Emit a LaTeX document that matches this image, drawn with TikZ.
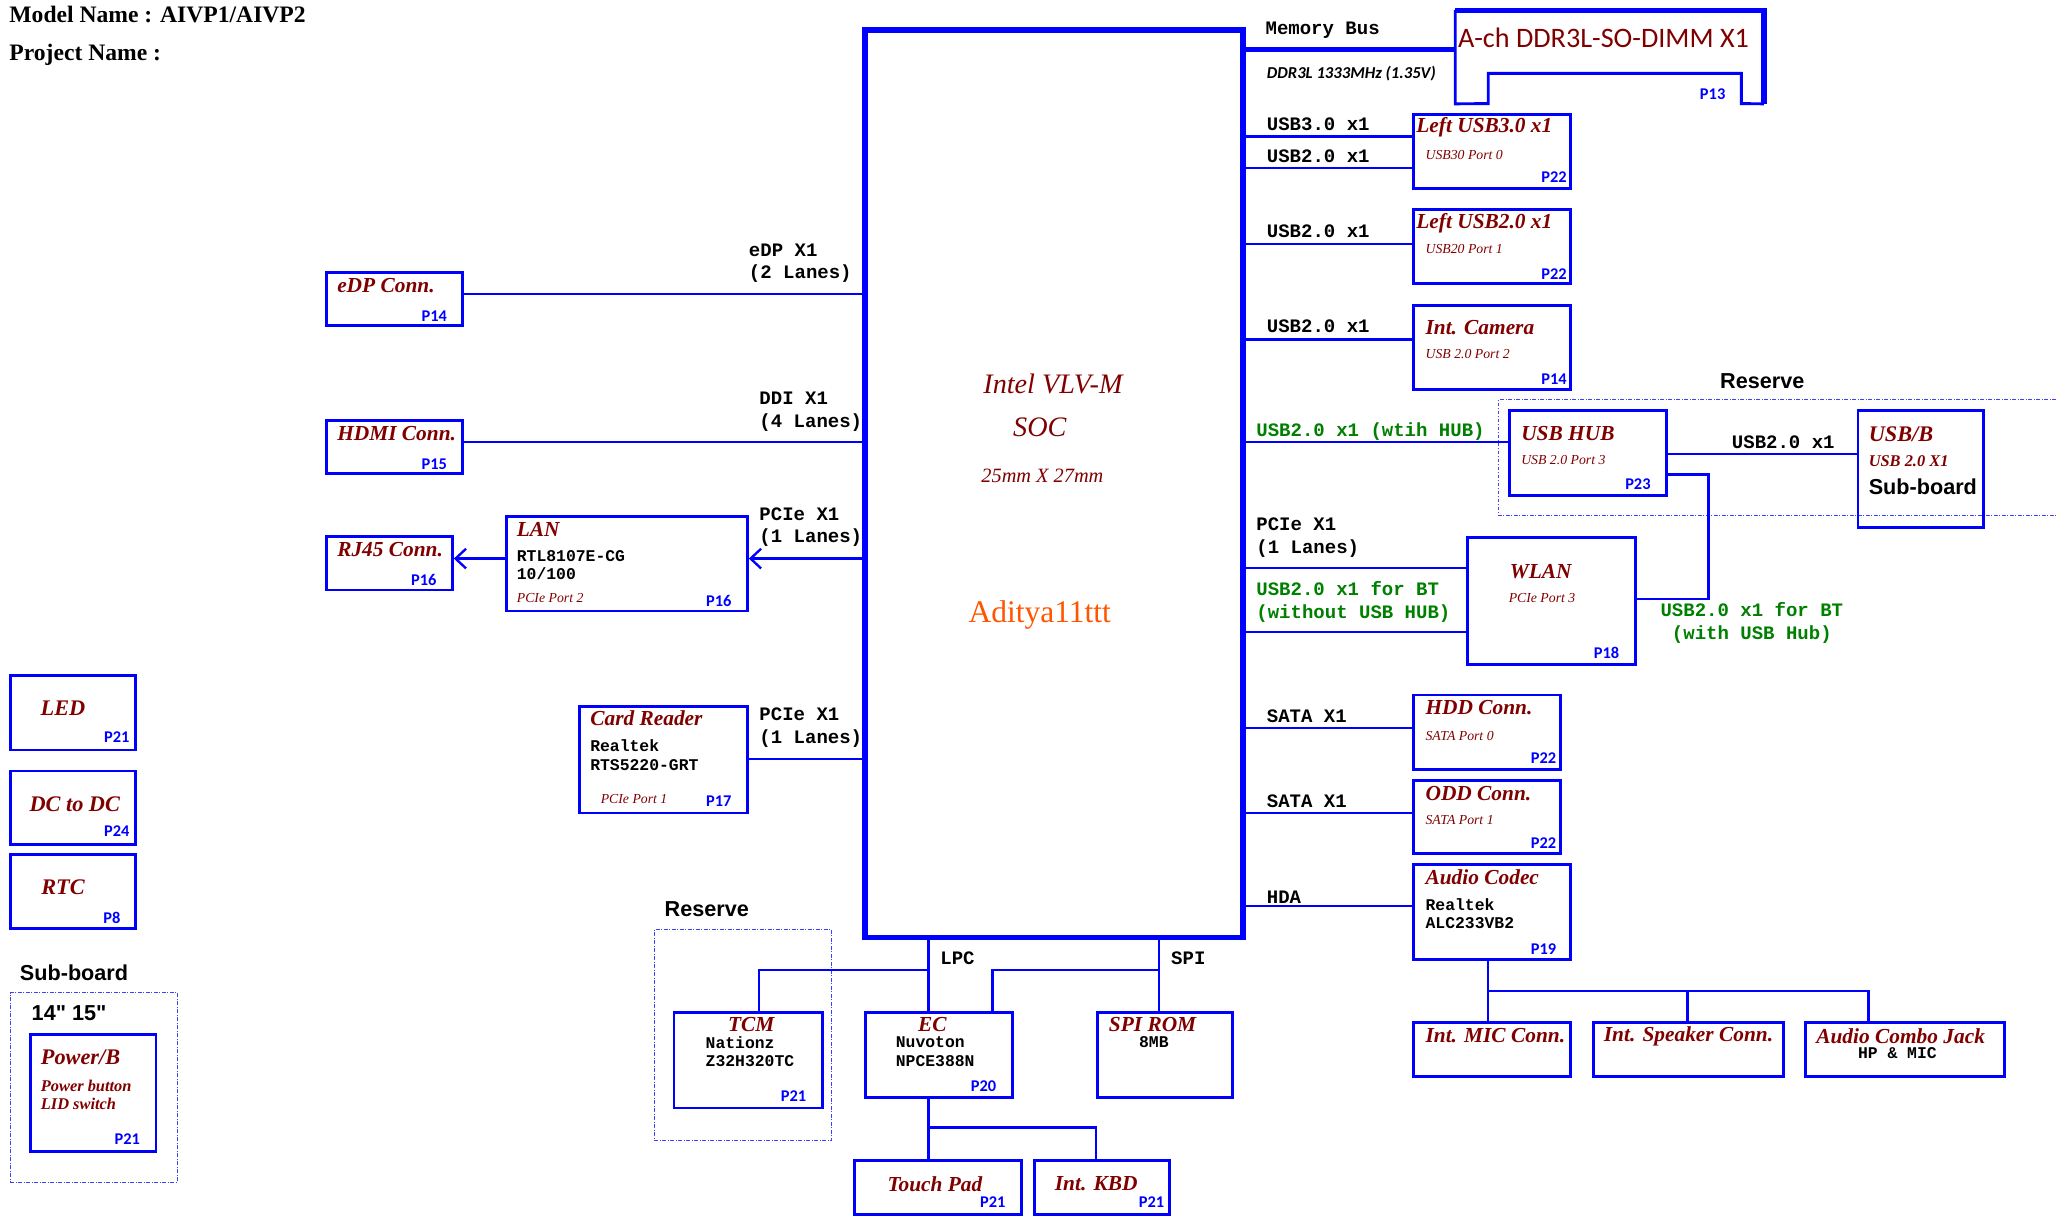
\documentclass[tikz,border=0pt]{standalone}
\usepackage{fontspec}
\setmainfont{Liberation Serif}
\setsansfont{Liberation Sans}
\setmonofont{Liberation Mono}
\newfontfamily\calfont{Carlito}
\newfontfamily\qsans{Liberation Sans}
\usetikzlibrary{fit,arrows.meta}

\definecolor{ttlred}{RGB}{128,0,0}
\definecolor{pblue}{RGB}{0,0,255}
\definecolor{busgreen}{RGB}{0,128,0}
\definecolor{wmark}{RGB}{255,85,0}

\begin{document}
\begin{tikzpicture}[x=1pt,y=-1pt,inner sep=0pt]

	\tikzset{socbox/.style={draw=pblue,line width=4.5pt},
		blk/.style={draw=pblue,line width=2.2pt},
		rsv/.style={draw=pblue!75,line width=0.7pt,dash pattern=on 3pt off 1.2pt on 0.7pt off 1.2pt},
		wire/.style={draw=pblue,line width=1.8pt},
		bus/.style={draw=pblue,line width=4pt},
		arr/.style={wire,-{Straight Barb[length=8pt,width=15pt]}},
		hdr/.style={anchor=west,font=\bfseries\fontsize{18}{20}\selectfont},
		soctxt/.style={text=ttlred,font=\itshape\fontsize{21.5}{24}\selectfont},
		ttl/.style={text=ttlred,font=\bfseries\itshape\fontsize{16.3}{18}\selectfont},
		big/.style={text=ttlred,font=\bfseries\itshape\fontsize{17}{20}\selectfont},
		sub/.style={anchor=west,text=ttlred,font=\itshape\fontsize{10.5}{12}\selectfont},
		subb/.style={anchor=west,align=left,text=ttlred,font=\bfseries\itshape\fontsize{12.5}{14}\selectfont},
		pg/.style={anchor=east,text=pblue,font=\calfont\bfseries\fontsize{12.5}{14}\selectfont},
		sig/.style={anchor=west,align=left,font=\ttfamily\bfseries\fontsize{14.5}{17}\selectfont},
		gsig/.style={sig,text=busgreen},
		chip/.style={anchor=west,align=left,font=\ttfamily\bfseries\fontsize{12.5}{14}\selectfont},
		note/.style={font=\sffamily\bfseries\fontsize{16.5}{19}\selectfont}}

	\useasboundingbox (0,0) rectangle (1568,933);

	\node[hdr] (model) at (7,11) {Model Name : AIVP1/AIVP2};
	\node[hdr] (proj) at (7,42) {Project Name :};

	\node[socbox,fit={(660,23)(948,715)}] (soc) {};
	\node[soctxt] (socn) at (803,293) {Intel VLV-M};
	\node[soctxt] (soct) at (793,326) {SOC};
	\node[soctxt,font=\itshape\fontsize{15.5}{18}\selectfont] (socs) at (795,363) {25mm X 27mm};
	\node[text=wmark,font=\fontsize{24}{27}\selectfont] (wm) at (793,469) {Aditya11ttt};

	\node[fit={(1110,8)(1345,79)}] (dimm) {};
	\draw[blk] (dimm.north west) -- (dimm.south west) -- (1135,79) -- (1135,56) -- (1328,56) -- (1328,79) -- (dimm.south east);
	\draw[bus] (dimm.north west) -- (dimm.north east) -- (dimm.south east);
	\node[text=ttlred,font=\calfont\fontsize{21.5}{24}\selectfont] (dimmt) at (1223,29) {A-ch DDR3L-SO-DIMM X1};
	\node[pg] (dimmp) at (1316,72) {P13};
	\node[sig] (mbus) at (965,23) {Memory Bus};
	\node[anchor=west,font=\calfont\bfseries\itshape\fontsize{12.7}{14}\selectfont] (ddr) at (966,56) {DDR3L 1333MHz (1.35V)};
	\draw[bus] (soc.east |- 0,38) -- (dimm.west |- 0,38);

	\node[blk,fit={(1078,87)(1198,144)}] (usb3) {};
	\node[ttl,anchor=west] (usb3t) at (1080,97) {Left USB3.0 x1};
	\node[sub] (usb3s) at (1087,118) {USB30 Port 0};
	\node[pg] (usb3p) at (1195,135) {P22};
	\node[sig] (usb3l) at (966,95) {USB3.0 x1};
	\node[sig] (usb3m) at (966,119) {USB2.0 x1};
	\draw[wire] (soc.east |- 0,104) -- (usb3.west |- 0,104);
	\draw[wire] (soc.east |- 0,128) -- (usb3.west |- 0,128);

	\node[blk,fit={(1078,160)(1198,216)}] (usb2) {};
	\node[ttl,anchor=west] (usb2t) at (1080,170) {Left USB2.0 x1};
	\node[sub] (usb2s) at (1087,190) {USB20 Port 1};
	\node[pg] (usb2p) at (1195,209) {P22};
	\node[sig] (usb2l) at (966,176) {USB2.0 x1};
	\draw[wire] (soc.east |- 0,186) -- (usb2.west |- 0,186);

	\node[blk,fit={(1078,233)(1198,297)}] (cam) {};
	\node[ttl,anchor=west] (camt) at (1087,250) {Int. Camera};
	\node[sub] (cams) at (1087,270) {USB 2.0 Port 2};
	\node[pg] (camp) at (1195,289) {P14};
	\node[sig] (caml) at (966,249) {USB2.0 x1};
	\draw[wire] (soc.east |- 0,259) -- (cam.west |- 0,259);

	\node[note] (rsvr) at (1344,291) {Reserve};
	\draw[rsv] (1568,305) -- (1143,305) -- (1143,393) -- (1568,393);
	\node[blk,fit={(1151,313)(1271,378)}] (hub) {};
	\node[ttl,anchor=west] (hubt) at (1160,331) {USB HUB};
	\node[sub] (hubs) at (1160,351) {USB 2.0 Port 3};
	\node[pg] (hubp) at (1259,369) {P23};
	\node[gsig] (hubl) at (958,329) {USB2.0 x1 (wtih HUB)};
	\draw[wire] (soc.east |- 0,337) -- (hub.west |- 0,337);

	\node[blk,fit={(1417,313)(1513,402)}] (usbb) {};
	\node[big,anchor=west] (usbbt) at (1425,331) {USB/B};
	\node[subb] (usbbs) at (1425,352) {USB 2.0 X1};
	\node[note,anchor=west] (usbbn) at (1425,371) {Sub-board};
	\node[sig,anchor=center] (usbbl) at (1360,337) {USB2.0 x1};
	\draw[wire] (hub.east |- 0,346) -- (usbb.west |- 0,346);

	\node[blk,fit={(1119,410)(1247,507)}] (wlan) {};
	\node[ttl] (wlant) at (1175,436) {WLAN};
	\node[sub,anchor=center] (wlans) at (1176,456) {PCIe Port 3};
	\node[pg] (wlanp) at (1235,498) {P18};
	\node[sig] (wlanl) at (958,410) {PCIe X1\\(1 Lanes)};
	\node[gsig] (wlanb) at (958,459) {USB2.0 x1 for BT\\(without USB HUB)};
	\node[gsig,anchor=center,align=center] (wlanh) at (1336,475) {USB2.0 x1 for BT\\(with USB Hub)};
	\draw[wire] (soc.east |- 0,433) -- (wlan.west |- 0,433);
	\draw[wire] (soc.east |- 0,482) -- (wlan.west |- 0,482);
	\draw[wire] (hub.east |- 0,362) -| (1303,457) -- (wlan.east |- 0,457);

	\node[blk,fit={(1078,530)(1190,587)}] (hdd) {};
	\node[ttl,anchor=west] (hddt) at (1087,540) {HDD Conn.};
	\node[sub] (hdds) at (1087,561) {SATA Port 0};
	\node[pg] (hddp) at (1187,578) {P22};
	\node[sig] (hddl) at (966,546) {SATA X1};
	\draw[wire] (soc.east |- 0,555) -- (hdd.west |- 0,555);

	\node[blk,fit={(1078,595)(1190,651)}] (odd) {};
	\node[ttl,anchor=west] (oddt) at (1087,605) {ODD Conn.};
	\node[sub] (odds) at (1087,625) {SATA Port 1};
	\node[pg] (oddp) at (1187,643) {P22};
	\node[sig] (oddl) at (966,611) {SATA X1};
	\draw[wire] (soc.east |- 0,620) -- (odd.west |- 0,620);

	\node[blk,fit={(1078,659)(1198,732)}] (codec) {};
	\node[ttl,anchor=west] (codect) at (1087,669) {Audio Codec};
	\node[chip] (codecc) at (1087,697) {Realtek\\ALC233VB2};
	\node[pg] (codecp) at (1187,724) {P19};
	\node[sig] (hda) at (966,684) {HDA};
	\draw[wire] (soc.east |- 0,691) -- (codec.west |- 0,691);

	\node[blk,fit={(1078,780)(1198,821)}] (mic) {};
	\node[ttl,anchor=west] (mict) at (1087,790) {Int. MIC Conn.};
	\node[blk,fit={(1215,780)(1360,821)}] (spk) {};
	\node[ttl,anchor=west] (spkt) at (1223,790) {Int. Speaker Conn.};
	\node[blk,fit={(1377,780)(1529,821)}] (jack) {};
	\node[ttl,anchor=west] (jackt) at (1385,790) {Audio Combo Jack};
	\node[chip,anchor=center] (jackc) at (1447,803) {HP \& MIC};
	\coordinate (audj) at (1135,756);
	\draw[wire] (codec.south -| audj) -- (mic.north -| audj);
	\draw[wire] (audj) -| (jack.north -| 1425,0);
	\draw[wire] (audj -| 1287,0) -- (spk.north -| 1287,0);

	\node[blk,fit={(249,208)(353,248)}] (edp) {};
	\node[ttl,anchor=west] (edpt) at (257,218) {eDP Conn.};
	\node[pg] (edpp) at (341,241) {P14};
	\node[sig] (edpl) at (571,201) {eDP X1\\(2 Lanes)};
	\draw[wire] (edp.east |- 0,224) -- (soc.west |- 0,224);

	\node[blk,fit={(249,321)(353,361)}] (hdmi) {};
	\node[ttl,anchor=west] (hdmit) at (257,331) {HDMI Conn.};
	\node[pg] (hdmip) at (341,354) {P15};
	\node[sig] (hdmil) at (579,314) {DDI X1\\(4 Lanes)};
	\draw[wire] (hdmi.east |- 0,337) -- (soc.west |- 0,337);

	\node[blk,fit={(249,409)(345,450)}] (rj) {};
	\node[ttl,anchor=west] (rjt) at (257,419) {RJ45 Conn.};
	\node[pg] (rjp) at (333,442) {P16};
	\node[blk,fit={(386,394)(570,466)}] (lan) {};
	\node[ttl,anchor=west] (lant) at (394,404) {LAN};
	\node[chip] (lanc) at (394,431) {RTL8107E-CG\\10/100};
	\node[sub] (lans) at (394,456) {PCIe Port 2};
	\node[pg] (lanp) at (558,458) {P16};
	\node[sig] (lanl) at (579,402) {PCIe X1\\(1 Lanes)};
	\draw[arr] (soc.west |- 0,426) -- (lan.east |- 0,426);
	\draw[arr] (lan.west |- 0,426) -- (rj.east |- 0,426);

	\node[blk,fit={(442,539)(570,620)}] (card) {};
	\node[ttl,anchor=west] (cardt) at (450,548) {Card Reader};
	\node[chip] (cardc) at (450,576) {Realtek\\RTS5220-GRT};
	\node[sub] (cards) at (458,609) {PCIe Port 1};
	\node[pg] (cardp) at (558,611) {P17};
	\node[sig] (cardl) at (579,555) {PCIe X1\\(1 Lanes)};
	\draw[wire] (card.east |- 0,579) -- (soc.west |- 0,579);

	\node[note] (rsvl) at (539,693) {Reserve};
	\node[rsv,fit={(499,709)(634,870)}] (rsvbox) {};
	\node[blk,fit={(514,772)(627,845)}] (tcm) {};
	\node[ttl] (tcmt) at (573,781) {TCM};
	\node[chip] (tcmc) at (538,802) {Nationz\\Z32H320TC};
	\node[pg] (tcmp) at (615,836) {P21};

	\node[blk,fit={(660,772)(772,837)}] (ec) {};
	\node[ttl] (ect) at (711,781) {EC};
	\node[chip] (ecc) at (683,802) {Nuvoton\\NPCE388N};
	\node[pg] (ecp) at (760,828) {P20};

	\node[blk,fit={(837,772)(940,837)}] (rom) {};
	\node[ttl] (romt) at (879,781) {SPI ROM};
	\node[chip,anchor=center] (romc) at (880,795) {8MB};

	\node[sig] (lpc) at (717,731) {LPC};
	\node[sig] (spi) at (893,731) {SPI};
	\coordinate (lpcj) at (708,740);
	\coordinate (spij) at (884,740);
	\draw[wire] (soc.south -| lpcj) -- (ec.north -| lpcj);
	\draw[wire] (lpcj) -| (tcm.north -| 579,0);
	\draw[wire] (soc.south -| spij) -- (rom.north -| spij);
	\draw[wire] (spij) -| (ec.north -| 757,0);

	\node[blk,fit={(652,885)(779,926)}] (tp) {};
	\node[ttl] (tpt) at (713,903) {Touch Pad};
	\node[pg] (tpp) at (767,917) {P21};
	\node[blk,fit={(789,885)(892,926)}] (kbd) {};
	\node[ttl] (kbdt) at (836,903) {Int. KBD};
	\node[pg] (kbdp) at (888,917) {P21};
	\coordinate (ecj) at (708,860);
	\draw[wire] (ec.south -| ecj) -- (tp.north -| ecj);
	\draw[wire] (ecj) -| (kbd.north -| 836,0);

	\node[blk,fit={(8,515)(103,572)}] (led) {};
	\node[big] (ledt) at (48,540) {LED};
	\node[pg] (ledp) at (99,562) {P21};
	\node[blk,fit={(8,588)(103,644)}] (dcdc) {};
	\node[big] (dcdct) at (57,613) {DC to DC};
	\node[pg] (dcdcp) at (99,634) {P24};
	\node[blk,fit={(8,652)(103,708)}] (rtc) {};
	\node[big] (rtct) at (48,677) {RTC};
	\node[pg] (rtcp) at (92,700) {P8};

	\node[note,anchor=west] (subl) at (15,742) {Sub-board};
	\node[rsv,fit={(8,757)(135,902)}] (subbox) {};
	\node[note,anchor=west,font=\qsans\bfseries\fontsize{16.5}{19}\selectfont] (size) at (24,773) {14" 15"};
	\node[blk,fit={(23,789)(119,878)}] (pwr) {};
	\node[big,anchor=west] (pwrt) at (31,806) {Power/B};
	\node[subb] (pwrs) at (31,835) {Power button\\LID switch};
	\node[pg] (pwrp) at (107,869) {P21};

\end{tikzpicture}
\end{document}
